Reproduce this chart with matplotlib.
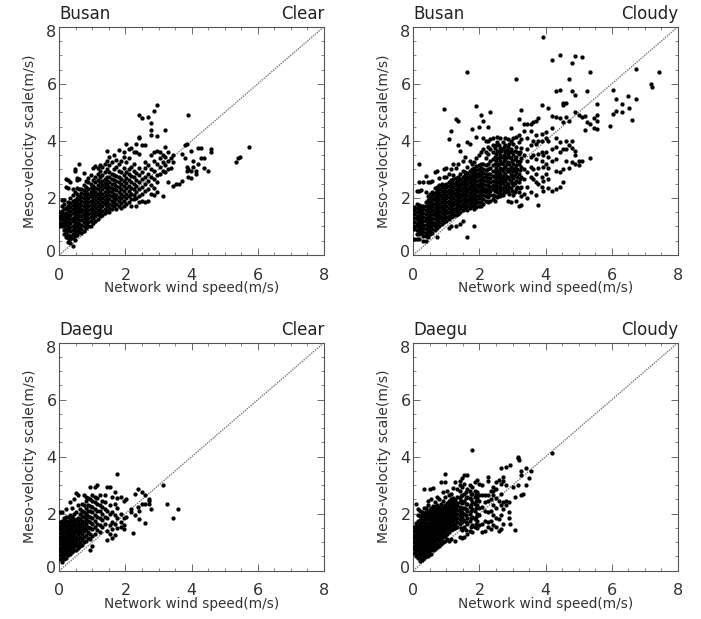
import matplotlib
matplotlib.use('Agg')
from matplotlib import pyplot as plt
from matplotlib.ticker import MultipleLocator
from matplotlib.transforms import ScaledTranslation

# points, grouped as (x, [y values at that x])
busan_clear = [
    (0.03, [1.02, 1.13, 1.27, 1.38, 1.52]), (0.09, [1.0, 1.12, 1.25, 1.41, 1.55, 1.7, 1.94]),
    (0.15, [0.75, 0.88, 1.03, 1.16, 1.3, 1.44, 1.6, 1.78, 1.92]), (0.21, [0.62, 0.76, 0.92, 1.08, 1.22, 1.35, 1.48, 1.66, 2.4, 2.66]),
    (0.27, [0.45, 0.58, 0.71, 0.87, 1.01, 1.17, 1.29, 1.44, 1.58, 1.73, 1.87, 2.35, 2.62]), (0.33, [0.42, 0.55, 0.68, 0.83, 0.98, 1.12, 1.27, 1.4, 1.54, 1.68, 1.82, 2.0, 2.55]),
    (0.4, [0.32, 0.61, 0.74, 0.88, 1.03, 1.18, 1.31, 1.47, 1.62, 1.75, 1.9, 2.1, 2.3]), (0.47, [0.52, 0.67, 0.8, 0.94, 1.09, 1.22, 1.36, 1.51, 1.66, 1.8, 1.93, 2.2, 2.95, 3.02]),
    (0.54, [0.7, 0.85, 1.0, 1.13, 1.29, 1.43, 1.57, 1.7, 1.86, 2.0, 2.15, 2.35, 2.62, 2.7]), (0.6, [0.82, 0.95, 1.1, 1.24, 1.38, 1.52, 1.66, 1.8, 1.95, 2.08, 2.3, 2.65, 3.2]),
    (0.67, [0.78, 0.92, 1.06, 1.21, 1.35, 1.49, 1.62, 1.76, 1.9, 2.03, 2.18, 2.32]), (0.74, [0.85, 1.0, 1.15, 1.3, 1.44, 1.58, 1.72, 1.86, 2.0, 2.13, 2.27, 2.45, 2.88]),
    (0.81, [0.95, 1.08, 1.23, 1.37, 1.52, 1.66, 1.8, 1.94, 2.08, 2.22, 2.4, 2.6]), (0.88, [1.0, 1.15, 1.3, 1.44, 1.58, 1.72, 1.87, 2.0, 2.15, 2.3, 2.55, 2.7]),
    (0.95, [1.02, 1.18, 1.33, 1.47, 1.62, 1.76, 1.9, 2.05, 2.2, 2.35, 2.5, 2.8]), (1.02, [1.12, 1.28, 1.42, 1.56, 1.7, 1.85, 2.0, 2.13, 2.28, 2.43, 2.62, 3.05]),
    (1.09, [1.2, 1.36, 1.5, 1.64, 1.78, 1.93, 2.08, 2.22, 2.36, 2.55, 2.75, 3.12]), (1.16, [1.25, 1.42, 1.58, 1.72, 1.86, 2.0, 2.15, 2.3, 2.45, 2.62, 2.85, 3.05]),
    (1.23, [1.35, 1.5, 1.65, 1.8, 1.95, 2.08, 2.22, 2.38, 2.55, 2.72, 2.95, 3.15]), (1.3, [1.4, 1.55, 1.7, 1.85, 2.0, 2.15, 2.3, 2.45, 2.6, 2.8, 3.08]),
    (1.37, [1.48, 1.62, 1.78, 1.93, 2.08, 2.22, 2.37, 2.52, 2.68, 2.9, 3.2]), (1.44, [1.55, 1.7, 1.85, 2.0, 2.15, 2.3, 2.45, 2.6, 2.75, 3.0, 3.3, 3.63]),
    (1.51, [1.5, 1.65, 1.8, 1.95, 2.1, 2.25, 2.4, 2.55, 2.72, 2.9, 3.15, 3.42]), (1.58, [1.6, 1.75, 1.9, 2.05, 2.2, 2.35, 2.5, 2.65, 2.85, 3.25]),
    (1.65, [1.7, 1.85, 2.0, 2.15, 2.32, 2.48, 2.62, 2.8, 3.0, 3.5]), (1.72, [1.62, 1.8, 1.95, 2.1, 2.27, 2.42, 2.6, 2.78, 3.1, 3.32]),
    (1.8, [1.72, 1.88, 2.03, 2.2, 2.38, 2.55, 2.75, 2.95, 3.18, 3.68]), (1.87, [1.65, 1.82, 2.0, 2.15, 2.33, 2.5, 2.68, 2.9, 3.3]),
    (1.95, [1.7, 1.9, 2.08, 2.25, 2.42, 2.6, 2.8, 3.05, 3.42, 3.6]), (2.02, [1.8, 1.98, 2.15, 2.35, 2.52, 2.7, 2.92, 3.25, 3.9]),
    (2.1, [1.85, 2.05, 2.25, 2.42, 2.62, 2.85, 3.0, 3.4, 3.7]), (2.17, [1.7, 1.95, 2.15, 2.35, 2.55, 2.78, 3.1, 3.75]),
    (2.25, [1.95, 2.12, 2.3, 2.5, 2.72, 2.95, 3.2, 3.6]), (2.33, [1.7, 2.0, 2.2, 2.42, 2.62, 2.88, 3.9, 3.6]),
    (2.42, [1.85, 2.08, 2.3, 2.55, 2.8, 3.05, 3.55, 4.1, 4.15, 4.92]), (2.5, [1.9, 2.15, 2.4, 2.65, 2.9, 3.85, 4.8]),
    (2.6, [1.85, 2.25, 2.5, 2.75, 3.05, 3.25, 3.85]), (2.68, [1.9, 2.3, 2.6, 2.85, 3.15, 4.85]),
    (2.77, [2.15, 2.45, 2.72, 3.0, 3.5, 4.2, 4.37, 4.62]), (2.86, [2.1, 2.35, 2.65, 2.95, 3.3, 3.6, 5.03]),
    (2.95, [2.2, 2.55, 2.8, 3.2, 3.65, 4.18, 5.24]), (3.05, [2.85, 3.1, 3.4, 3.6]), (3.12, [2.07, 2.95, 3.25, 3.5]),
    (3.2, [2.9, 3.15, 3.42, 3.8, 4.37]), (3.28, [2.55, 3.0, 3.3, 3.6]), (3.38, [3.05, 3.4]), (3.45, [2.42, 3.25, 3.5]),
    (3.52, [2.5]), (3.62, [2.5]), (3.72, [2.6, 3.55]), (3.8, [3.4, 3.87]), (3.87, [2.95, 3.1, 3.88]), (3.9, [2.75, 3.0, 4.92]),
    (3.97, [2.7, 2.95, 3.65]), (4.05, [3.1, 3.3]), (4.12, [2.95, 2.85]), (4.18, [3.2, 3.76]), (4.28, [3.4, 3.75]), (4.38, [3.05, 3.4]),
    (4.5, [2.95]), (4.57, [3.62, 3.7]), (5.35, [3.25]), (5.4, [3.4]), (5.45, [3.43]), (5.72, [3.79]),
]

busan_cloudy = [
    (0.03, [0.55, 0.9, 1.02, 1.15, 1.28, 1.42, 1.56, 1.68]), (0.1, [0.55, 0.72, 0.86, 1.0, 1.12, 1.25, 1.38, 1.52, 1.65, 1.78, 2.25]),
    (0.17, [0.55, 0.72, 0.85, 0.98, 1.1, 1.23, 1.36, 1.5, 1.62, 1.75, 2.25, 2.55, 3.2]), (0.24, [0.78, 0.9, 1.03, 1.16, 1.3, 1.43, 1.56, 1.7, 2.28]),
    (0.3, [0.5, 0.65, 0.8, 0.93, 1.06, 1.2, 1.33, 1.46, 1.6, 1.73, 2.55]), (0.37, [0.5, 0.65, 0.78, 0.92, 1.05, 1.18, 1.3, 1.43, 1.56, 1.7, 1.84, 2.2, 2.78]),
    (0.44, [0.62, 0.75, 0.88, 1.02, 1.15, 1.28, 1.41, 1.54, 1.67, 1.8, 1.93, 2.05, 2.55]), (0.51, [0.72, 0.85, 0.98, 1.1, 1.23, 1.36, 1.5, 1.63, 1.76, 1.89, 2.02, 2.15, 2.55]),
    (0.58, [0.78, 0.92, 1.04, 1.17, 1.3, 1.43, 1.56, 1.7, 1.83, 1.96, 2.09, 2.22, 2.58]), (0.65, [0.86, 1.0, 1.13, 1.26, 1.39, 1.52, 1.65, 1.78, 1.91, 2.04, 2.17, 2.35, 2.9]),
    (0.72, [0.62, 0.95, 1.08, 1.21, 1.34, 1.47, 1.6, 1.73, 1.86, 1.99, 2.12, 2.25, 2.38, 2.95]), (0.79, [1.02, 1.15, 1.28, 1.41, 1.54, 1.67, 1.8, 1.93, 2.06, 2.19, 2.32, 2.45, 2.7]),
    (0.86, [1.08, 1.21, 1.34, 1.47, 1.6, 1.73, 1.86, 1.99, 2.12, 2.25, 2.38, 2.5]), (0.93, [1.15, 1.28, 1.41, 1.54, 1.67, 1.8, 1.93, 2.06, 2.19, 2.32, 2.45, 2.75, 3.0, 5.1]),
    (1.0, [1.2, 1.33, 1.46, 1.59, 1.72, 1.85, 1.98, 2.11, 2.24, 2.37, 2.5, 2.72, 3.05]), (1.07, [0.95, 1.25, 1.38, 1.51, 1.64, 1.77, 1.9, 2.03, 2.16, 2.29, 2.42, 2.55, 2.85, 4.08]),
    (1.14, [1.0, 1.32, 1.45, 1.58, 1.71, 1.84, 1.97, 2.1, 2.23, 2.36, 2.49, 2.62, 3.0, 4.35]), (1.21, [1.35, 1.48, 1.61, 1.74, 1.87, 2.0, 2.13, 2.26, 2.39, 2.52, 2.65, 2.8, 3.2]),
    (1.28, [1.0, 1.4, 1.53, 1.66, 1.79, 1.92, 2.05, 2.18, 2.31, 2.44, 2.57, 2.7, 3.05, 4.75]), (1.35, [1.45, 1.58, 1.71, 1.84, 1.97, 2.1, 2.23, 2.36, 2.49, 2.62, 2.75, 3.2, 3.85, 4.68]),
    (1.42, [1.1, 1.5, 1.63, 1.76, 1.89, 2.02, 2.15, 2.28, 2.41, 2.54, 2.67, 2.85, 3.65]), (1.49, [1.18, 1.57, 1.7, 1.83, 1.96, 2.09, 2.22, 2.35, 2.48, 2.61, 2.74, 2.95, 3.3]),
    (1.56, [1.62, 1.75, 1.88, 2.01, 2.14, 2.27, 2.4, 2.53, 2.66, 2.79, 2.92, 3.45]), (1.63, [0.62, 1.58, 1.71, 1.84, 1.97, 2.1, 2.23, 2.36, 2.49, 2.62, 2.75, 2.88, 3.1, 3.95, 6.4]),
    (1.7, [1.65, 1.78, 1.91, 2.04, 2.17, 2.3, 2.43, 2.56, 2.69, 2.82, 2.95, 3.3, 3.9]), (1.77, [1.72, 1.85, 1.98, 2.11, 2.24, 2.37, 2.5, 2.63, 2.76, 2.89, 3.02, 3.2, 4.42]),
    (1.84, [1.0, 1.6, 1.75, 1.88, 2.01, 2.14, 2.27, 2.4, 2.53, 2.66, 2.79, 2.92, 3.05, 3.25]), (1.91, [1.68, 1.81, 1.94, 2.07, 2.2, 2.33, 2.46, 2.59, 2.72, 2.85, 2.98, 3.12, 3.4, 4.15, 5.23]),
    (1.98, [1.72, 1.85, 1.98, 2.11, 2.24, 2.37, 2.5, 2.63, 2.76, 2.89, 3.02, 3.15, 3.5, 4.5]), (2.05, [1.7, 1.85, 2.0, 2.15, 2.28, 2.41, 2.54, 2.67, 2.8, 2.93, 3.06, 3.2, 3.6, 4.92]),
    (2.12, [1.8, 1.95, 2.1, 2.23, 2.36, 2.49, 2.62, 2.75, 2.88, 3.01, 3.2, 3.7, 4.1, 4.7]), (2.19, [1.9, 2.05, 2.2, 2.33, 2.46, 2.59, 2.72, 2.85, 2.98, 3.15, 3.4, 3.6, 4.0]),
    (2.26, [1.85, 2.02, 2.18, 2.32, 2.45, 2.58, 2.71, 2.84, 3.0, 3.2, 3.55, 3.8, 4.0, 4.5]), (2.33, [1.9, 2.1, 2.25, 2.4, 2.55, 2.7, 2.85, 3.05, 3.3, 3.7, 4.05, 5.02]),
    (2.4, [1.95, 2.12, 2.3, 2.45, 2.6, 2.78, 2.95, 3.15, 3.35, 3.6, 3.85, 4.1]), (2.47, [1.9, 2.08, 2.25, 2.42, 2.58, 2.75, 2.95, 3.2, 3.42, 3.75]),
    (2.54, [2.02, 2.2, 2.38, 2.55, 2.72, 2.9, 3.15, 3.4, 3.65, 3.95, 4.12]), (2.62, [2.05, 2.25, 2.45, 2.65, 2.85, 3.05, 3.3, 3.5, 3.75, 4.1]),
    (2.7, [2.1, 2.3, 2.52, 2.72, 2.95, 3.2, 3.45, 3.7, 3.95]), (2.78, [2.2, 2.42, 2.62, 2.85, 3.1, 3.35, 3.6, 3.85, 4.1]),
    (2.86, [1.9, 2.25, 2.5, 2.75, 3.0, 3.25, 3.55, 3.8, 4.05]), (2.94, [1.85, 2.35, 2.6, 2.85, 3.1, 3.4, 3.7, 4.0, 4.45]),
    (3.02, [2.1, 2.45, 2.7, 2.95, 3.2, 3.5, 3.9, 4.1]), (3.1, [1.9, 2.3, 2.6, 2.9, 3.15, 3.45, 3.8, 4.15, 6.15]),
    (3.18, [1.7, 2.2, 2.55, 2.85, 3.2, 3.55, 3.95, 4.2, 4.75]), (3.26, [1.75, 2.05, 2.4, 2.75, 3.1, 3.4, 3.75, 4.05, 5.08]),
    (2.5, [2.3, 2.5, 2.68, 2.85, 3.05, 3.3, 3.55, 3.85]), (2.58, [2.12, 2.35, 2.55, 2.78, 2.95, 3.2, 3.4, 3.62, 3.85]),
    (2.66, [2.15, 2.35, 2.58, 2.78, 3.0, 3.22, 3.42, 3.65]), (2.74, [2.2, 2.4, 2.62, 2.82, 3.05, 3.28, 3.5, 3.78]),
    (2.82, [2.3, 2.52, 2.75, 2.95, 3.18, 3.42, 3.68]), (2.9, [2.15, 2.4, 2.68, 2.95, 3.18, 3.45, 3.62, 3.9]),
    (2.98, [2.25, 2.52, 2.78, 3.02, 3.3, 3.6]), (3.06, [2.2, 2.52, 2.8, 3.05, 3.35, 3.65]), (3.14, [2.4, 2.72, 3.02, 3.3, 3.6]), (3.22, [2.35, 2.65, 2.98, 3.28, 3.62]),
    (3.35, [2.15, 2.65, 3.0, 3.5, 4.35, 4.6]), (3.45, [2.0, 2.4, 2.9, 3.3, 3.7, 4.1, 4.6]), (3.55, [2.2, 2.75, 3.1, 3.45, 3.85, 4.35, 4.6]),
    (3.63, [2.65, 3.0, 3.5, 4.0, 4.65]), (3.72, [2.1, 2.55, 2.85, 3.35, 3.9, 4.2, 4.7]), (3.78, [1.75, 2.5, 3.05, 3.55, 4.0, 4.8]),
    (3.88, [2.4, 2.75, 3.3, 3.6, 4.0, 4.25, 5.25]), (3.92, [2.25, 2.6, 3.1, 3.5, 7.65]), (4.0, [2.85, 3.2, 3.6, 4.1, 4.3]),
    (4.08, [2.35, 2.65, 3.05, 3.45, 4.0, 5.15]), (4.18, [2.25, 3.3, 3.7, 4.45, 4.88, 6.82]), (4.3, [2.3, 2.95, 3.35, 3.8, 4.1, 4.85, 5.75]),
    (4.42, [2.4, 2.9, 3.6, 3.95, 4.8, 5.78, 7.0]), (4.52, [2.55, 3.0, 3.7, 4.65, 5.25, 5.33]), (4.62, [3.3, 3.7, 4.0, 4.85, 5.33]),
    (4.72, [3.05, 3.85, 4.7, 6.15]), (4.8, [3.25, 3.75, 4.0, 5.75, 6.72]), (4.9, [3.2, 3.5, 3.65, 5.02, 5.6, 6.97]),
    (5.0, [3.15, 3.3, 4.9]), (5.1, [3.3, 4.85, 6.93]), (5.18, [4.38, 4.88]), (5.25, [4.65, 5.73]), (5.35, [3.4, 4.6, 6.43]),
    (5.45, [4.45, 4.8]), (5.55, [4.4, 4.68, 4.9, 5.3]), (5.93, [4.53]), (6.05, [4.95, 5.77]), (6.12, [5.03, 5.48]),
    (6.3, [5.02, 5.28]), (6.48, [5.58]), (6.52, [5.15]), (6.6, [4.73]), (6.72, [5.48, 6.53]), (7.17, [5.98]), (7.22, [5.87]), (7.43, [6.4]),
]

daegu_clear = [
    (0.02, [0.42, 0.55, 0.68, 0.8, 0.93, 1.06, 1.19, 1.32, 1.45, 1.58, 1.72, 2.05]), (0.08, [0.32, 0.45, 0.58, 0.71, 0.84, 0.97, 1.1, 1.23, 1.36, 1.5, 1.63, 1.76, 2.05]),
    (0.14, [0.4, 0.53, 0.66, 0.79, 0.92, 1.05, 1.18, 1.31, 1.44, 1.57, 1.7, 1.85]), (0.2, [0.45, 0.58, 0.71, 0.84, 0.97, 1.1, 1.23, 1.36, 1.49, 1.62, 1.75, 1.9, 2.18]),
    (0.26, [0.55, 0.68, 0.81, 0.94, 1.07, 1.2, 1.33, 1.46, 1.59, 1.72, 1.9]), (0.32, [0.6, 0.73, 0.86, 0.99, 1.12, 1.25, 1.38, 1.51, 1.64, 1.77, 1.95, 2.4]),
    (0.38, [0.65, 0.8, 0.95, 1.08, 1.21, 1.34, 1.47, 1.6, 1.73, 1.88, 2.2]), (0.44, [0.72, 0.88, 1.02, 1.15, 1.28, 1.41, 1.54, 1.67, 1.82, 2.0, 2.5]),
    (0.5, [0.72, 0.9, 1.05, 1.2, 1.35, 1.48, 1.62, 1.78, 2.05, 2.72]), (0.56, [0.8, 0.95, 1.12, 1.28, 1.42, 1.56, 1.7, 1.85, 2.3, 2.65]),
    (0.62, [0.85, 1.02, 1.18, 1.35, 1.5, 1.65, 1.8, 2.0, 2.15]), (0.68, [0.9, 1.1, 1.28, 1.45, 1.6, 1.75, 1.92, 2.1, 2.35]),
    (0.74, [1.0, 1.2, 1.38, 1.55, 1.72, 1.88, 2.05, 2.3, 2.65]), (0.8, [1.05, 1.25, 1.45, 1.65, 1.82, 2.0, 2.2, 2.45, 2.58]),
    (0.87, [1.15, 1.35, 1.55, 1.75, 1.92, 2.1, 2.3, 2.55]), (0.93, [0.72, 1.1, 1.3, 1.5, 1.7, 1.88, 2.08, 2.28, 2.5, 2.95]),
    (1.0, [0.88, 1.22, 1.45, 1.65, 1.85, 2.05, 2.25, 2.45, 2.65]), (1.07, [1.3, 1.55, 1.75, 1.95, 2.15, 2.4, 2.6, 2.92]),
    (1.14, [1.42, 1.65, 1.88, 2.1, 2.35, 2.55, 3.02]), (1.22, [1.35, 1.6, 1.85, 2.1, 2.3, 2.65]), (1.3, [1.55, 1.78, 2.0, 2.25, 2.45]),
    (1.38, [1.65, 1.9, 2.15, 2.4, 2.65]), (1.45, [1.08, 1.4, 1.85, 2.1, 2.95]), (1.52, [1.3, 1.6, 2.0, 2.3, 2.92]),
    (1.6, [1.15, 1.45, 1.72, 2.05, 2.6]), (1.68, [1.25, 1.65, 1.95, 2.35, 2.75]), (1.75, [1.5, 1.85, 2.2, 2.55, 3.4]),
    (1.85, [1.55, 1.72, 2.0, 2.6]), (1.95, [1.45, 1.6, 1.85, 2.45]), (2.02, [1.9, 2.5]), (2.17, [2.15, 2.05]), (2.22, [1.33]),
    (2.3, [2.7, 1.95]), (2.38, [2.85, 2.25]), (2.42, [1.82, 2.08]), (2.5, [2.35, 2.75]), (2.6, [1.68, 2.65, 2.35]), (2.7, [2.45, 2.35, 2.52]),
    (2.78, [2.18]), (3.12, [3.02]), (3.27, [2.35]), (3.43, [1.85]), (3.58, [2.17]),
]

daegu_cloudy = [
    (0.02, [0.62, 0.75, 0.88, 1.0, 1.13, 1.26, 1.39, 1.52]), (0.07, [0.52, 0.65, 0.78, 0.91, 1.04, 1.17, 1.3, 1.43, 1.56, 1.69, 2.35]),
    (0.13, [0.45, 0.58, 0.71, 0.84, 0.97, 1.1, 1.23, 1.36, 1.49, 1.62, 1.75, 1.95, 2.15]), (0.19, [0.35, 0.48, 0.61, 0.74, 0.87, 1.0, 1.13, 1.26, 1.39, 1.52, 1.65, 1.78, 1.91, 2.1]),
    (0.25, [0.38, 0.51, 0.64, 0.77, 0.9, 1.03, 1.16, 1.29, 1.42, 1.55, 1.68, 1.81, 1.94, 2.07]), (0.31, [0.45, 0.58, 0.71, 0.84, 0.97, 1.1, 1.23, 1.36, 1.49, 1.62, 1.75, 1.88, 2.01, 2.2, 2.85]),
    (0.37, [0.5, 0.63, 0.76, 0.89, 1.02, 1.15, 1.28, 1.41, 1.54, 1.67, 1.8, 1.93, 2.06, 2.2]), (0.43, [0.52, 0.65, 0.78, 0.91, 1.04, 1.17, 1.3, 1.43, 1.56, 1.69, 1.82, 1.95, 2.08, 2.3, 2.45]),
    (0.49, [0.58, 0.71, 0.84, 0.97, 1.1, 1.23, 1.36, 1.49, 1.62, 1.75, 1.88, 2.01, 2.14, 2.85]), (0.55, [0.6, 0.75, 0.9, 1.03, 1.16, 1.29, 1.42, 1.55, 1.68, 1.81, 1.94, 2.07, 2.2, 2.5]),
    (0.61, [0.72, 0.85, 0.98, 1.11, 1.24, 1.37, 1.5, 1.63, 1.76, 1.89, 2.02, 2.15, 2.28, 2.9]), (0.67, [0.75, 0.9, 1.05, 1.18, 1.31, 1.44, 1.57, 1.7, 1.83, 1.96, 2.09, 2.22, 2.4]),
    (0.73, [0.82, 0.95, 1.1, 1.25, 1.38, 1.51, 1.64, 1.77, 1.9, 2.03, 2.16, 2.3, 2.6]), (0.79, [0.88, 1.03, 1.18, 1.33, 1.46, 1.59, 1.72, 1.85, 1.98, 2.11, 2.24, 2.5]),
    (0.85, [0.95, 1.1, 1.25, 1.4, 1.53, 1.66, 1.79, 1.92, 2.05, 2.18, 2.35, 3.12]), (0.91, [1.0, 1.17, 1.32, 1.47, 1.6, 1.73, 1.86, 1.99, 2.12, 2.25, 2.45, 2.75]),
    (0.97, [1.05, 1.22, 1.38, 1.54, 1.67, 1.8, 1.93, 2.06, 2.19, 2.32, 2.6, 3.38, 3.12]), (1.03, [1.12, 1.3, 1.45, 1.6, 1.73, 1.86, 1.99, 2.12, 2.25, 2.38, 2.8]),
    (1.09, [1.05, 1.35, 1.5, 1.65, 1.78, 1.91, 2.04, 2.17, 2.3, 2.43, 2.65]), (1.15, [1.1, 1.42, 1.57, 1.72, 1.85, 1.98, 2.11, 2.24, 2.37, 2.5, 2.7]),
    (1.21, [1.45, 1.6, 1.75, 1.9, 2.03, 2.16, 2.29, 2.42, 2.55, 2.9]), (1.27, [1.05, 1.5, 1.65, 1.8, 1.95, 2.08, 2.21, 2.34, 2.48, 3.1]),
    (1.33, [1.55, 1.7, 1.85, 2.0, 2.13, 2.26, 2.39, 2.6, 2.85]), (1.4, [1.2, 1.65, 1.8, 1.95, 2.1, 2.25, 2.4, 2.55, 2.8, 3.0, 3.15]),
    (1.43, [1.5, 1.72, 1.98, 2.18, 2.45, 2.62]), (1.47, [1.15, 1.42, 1.7, 1.88, 2.05, 2.2, 2.38, 2.65, 2.95, 3.25]), (1.54, [1.2, 1.55, 1.78, 2.0, 2.2, 2.45, 2.7, 3.05, 3.35]),
    (1.58, [1.42, 1.7, 1.95, 2.15, 2.35, 2.55, 2.75]), (1.62, [1.3, 1.65, 1.85, 2.1, 2.35, 2.6, 2.85, 3.35]), (1.7, [1.4, 1.75, 2.0, 2.25, 2.55, 2.8, 3.0]),
    (1.74, [1.55, 1.85, 2.1, 2.32, 2.5, 2.7]), (1.77, [1.35, 1.6, 1.9, 2.15, 2.4, 2.7, 4.23, 2.95]), (1.85, [1.55, 1.8, 2.1, 2.35, 2.6, 2.8, 3.1]),
    (1.9, [1.65, 1.9, 2.2, 2.45, 2.65]), (1.93, [1.5, 1.75, 2.0, 2.3, 2.55, 2.75, 3.2]),
    (2.0, [1.6, 1.95, 2.2, 2.45, 2.65, 3.05]), (2.08, [1.35, 1.65, 2.25, 2.65, 3.0]), (2.16, [1.4, 1.75, 2.1, 2.4, 2.65]), (2.25, [1.55, 1.7, 2.05, 2.45, 2.65, 3.15, 3.3]),
    (2.35, [1.45, 1.75, 2.1, 2.5, 2.8]), (2.42, [1.6, 1.95, 2.3, 2.65, 2.92, 2.78]), (2.5, [1.55, 1.85, 2.2, 2.55, 2.85, 3.1]), (2.58, [1.4, 1.8, 2.45, 3.2]),
    (2.65, [1.45, 1.95, 2.3, 2.7, 3.62, 3.05]), (2.72, [1.65, 2.15, 2.42, 3.3, 3.15]), (2.8, [2.3, 2.45, 3.65, 3.0]), (2.88, [1.85, 2.05, 2.4]), (2.92, [1.65, 3.7]),
    (3.0, [2.95]), (3.08, [1.42, 2.6]), (3.15, [3.0, 3.95, 4.0]), (3.18, [3.88]), (3.25, [3.35, 3.5, 2.65]), (3.33, [2.7]), (3.4, [3.0, 3.6]), (3.5, [3.27]), (3.55, [3.5]), (4.2, [4.13]),
]

cities = ['Busan', 'Busan', 'Daegu', 'Daegu']
skies = ['Clear', 'Cloudy', 'Clear', 'Cloudy']
panels = [busan_clear, busan_cloudy, daegu_clear, daegu_cloudy]
ticks = [0, 2, 4, 6, 8]

W, H = 701, 619
# left, top, right, bottom of each frame in pixels
boxes = [(59.3, 26.7, 324, 255), (413.3, 26.7, 678, 255),
         (59.3, 342.7, 324, 570.7), (413.3, 342.7, 678, 570.7)]

plt.rcParams['font.family'] = 'DejaVu Sans'
fig = plt.figure(figsize=(W / 100, H / 100), dpi=100)

for box, pts, city, sky in zip(boxes, panels, cities, skies):
    l, t, r, b = box
    ax = fig.add_axes([l / W, 1 - b / H, (r - l) / W, (b - t) / H])
    xs = [x for x, ys in pts for y in ys]
    ys_ = [y for x, ys in pts for y in ys]
    ax.plot([0, 8], [0, 8], ls=(0, (1, 0.8)), color='#777777', lw=1.0)
    ax.scatter(xs, ys_, s=9.5, c='k', linewidths=0, zorder=3)
    ax.set_xlim(0, 8)
    ax.set_ylim(0, 8)
    ax.set_xticks(ticks)
    ax.set_yticks(ticks)
    ax.xaxis.set_minor_locator(MultipleLocator(0.5))
    ax.yaxis.set_minor_locator(MultipleLocator(0.5))
    ax.tick_params(which='major', direction='in', top=True, right=True, length=5, width=0.6,
                   color='#555555', labelsize=11.5, labelcolor='#333333')
    ax.tick_params(axis='y', which='major', pad=2)
    ax.tick_params(axis='x', which='major', pad=9)
    ax.tick_params(which='minor', direction='in', top=True, right=True, length=2.5, width=0.5, color='#555555')
    # IDL pulls the end labels of the y axis inside the frame
    labs = ax.get_yticklabels()
    labs[0].set_va('bottom')
    labs[0].set_transform(labs[0].get_transform() + ScaledTranslation(0, -5 / 100, fig.dpi_scale_trans))
    labs[-1].set_va('top')
    labs[-1].set_transform(labs[-1].get_transform() + ScaledTranslation(0, 2 / 100, fig.dpi_scale_trans))
    for s in ax.spines.values():
        s.set_linewidth(0.8)
        s.set_color('#555555')
    ax.set_xlabel('Network wind speed(m/s)', fontsize=9.8, color='#333333', labelpad=-1)
    ax.set_ylabel('Meso-velocity scale(m/s)', fontsize=10.1, color='#333333', labelpad=7)
    ax.text(0, 1.018, city, transform=ax.transAxes, fontsize=12, ha='left', va='bottom', color='#222222')
    ax.text(1, 1.018, sky, transform=ax.transAxes, fontsize=12, ha='right', va='bottom', color='#222222')

fig.savefig('out.png', dpi=100)
